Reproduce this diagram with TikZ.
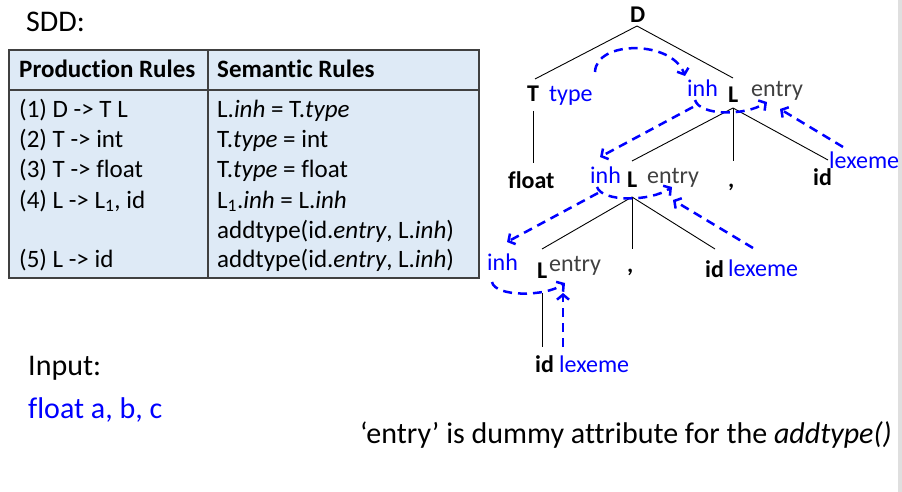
\documentclass[tikz,border=0pt]{standalone}
\usepackage{fontspec}
\setmainfont{Carlito}[Ligatures={NoCommon}]
\usetikzlibrary{arrows.meta}
\definecolor{tblfill}{HTML}{DEEAF6}
\definecolor{tblline}{HTML}{404040}
\definecolor{attrblue}{HTML}{0000FF}
\definecolor{entrygray}{HTML}{404040}
\begin{document}
\begin{tikzpicture}[x=1pt,y=-1pt,
  txt/.style={anchor=base west, inner sep=0pt, font=\fontsize{24}{29}\selectfont},
  tbl/.style={anchor=base west, inner sep=0pt, font=\fontsize{25}{30}\selectfont},
  tblh/.style={anchor=base west, inner sep=0pt, font=\fontsize{25}{30}\selectfont\bfseries},
  big/.style={anchor=base west, inner sep=0pt, font=\fontsize{30}{36}\selectfont},
  sym/.style={anchor=base west, inner sep=0pt, font=\fontsize{24}{29}\selectfont\bfseries},
  attr/.style={txt, text=attrblue},
  ent/.style={txt, text=entrygray},
  treeline/.style={line width=0.9pt},
  dep/.style={attrblue, line width=2.5pt, dash pattern=on 9pt off 6pt,
    -{Straight Barb[length=5pt,width=12pt]}}]
\useasboundingbox (0,0) rectangle (902,492);
\fill[white] (0,0) rectangle (902,492);
\fill[gray!25] (898,0) rectangle (902,492);

% titles
\node[big] (sdd) at (26,32) {SDD:};
\node[big] (input) at (28,375) {Input:};
\node[big, text=attrblue] (inval) at (28,418) {float a, b, c};
\node[big] (note) at (360,443) {‘entry’ is dummy attribute for the \textit{addtype()}};

% table
\draw[fill=tblfill, draw=tblline, line width=2pt] (9,50) rectangle (479,278);
\draw[tblline, line width=2pt] (9,90) -- (479,90);
\draw[tblline, line width=2pt] (208,50) -- (208,278);
\node[tblh] (h1) at (19,78) {Production Rules};
\node[tblh] (h2) at (217,78) {Semantic Rules};
\node[tbl] (p1) at (19,118) {(1) D -> T L};
\node[tbl] (p2) at (19,148) {(2) T -> int};
\node[tbl] (p3) at (19,177) {(3) T -> float};
\node[tbl] (p4) at (19,208) {(4) L -> L\textsubscript{1}, id};
\node[tbl] (p5) at (19,267) {(5) L -> id};
\node[tbl] (s1) at (217,118) {L.\textit{inh} = T.\textit{type}};
\node[tbl] (s2) at (217,148) {T.\textit{type} = int};
\node[tbl] (s3) at (217,177) {T.\textit{type} = float};
\node[tbl] (s4) at (217,208) {L\textsubscript{1}.\textit{inh} = L.\textit{inh}};
\node[tbl] (s5) at (217,238) {addtype(id.\textit{entry}, L.\textit{inh})};
\node[tbl] (s6) at (217,267) {addtype(id.\textit{entry}, L.\textit{inh})};

% tree symbols
\node[sym] (D) at (630,23) {D};
\node[sym] (T) at (527,102) {T};
\node[attr] (Ttype) at (549,102) {type};
\node[sym] (L1) at (728,103) {L};
\node[attr] (L1inh) at (687,97) {inh};
\node[ent] (L1entry) at (751,97) {entry};
\node[sym] (flt) at (508,188) {float};
\node[sym] (L2) at (627,187) {L};
\node[attr] (L2inh) at (590,183) {inh};
\node[ent] (L2entry) at (647,183) {entry};
\node[sym] (c1) at (728,187) {,};
\node[sym] (id1) at (813,185) {id};
\node[attr] (lex1) at (829,168) {lexeme};
\node[sym] (L3) at (537,278) {L};
\node[attr] (L3inh) at (487,270) {inh};
\node[ent] (L3entry) at (549,271) {entry};
\node[sym] (c2) at (627,272) {,};
\node[sym] (id2) at (705,277) {id};
\node[attr] (lex2) at (728,276) {lexeme};
\node[sym] (id3) at (535,372) {id};
\node[attr] (lex3) at (559,372) {lexeme};

% tree line end points
\coordinate (Dd) at (637,26);
\coordinate (Tu) at (535,79);
\coordinate (L1u) at (733,78);
\coordinate (Td) at (533,111);
\coordinate (fltu) at (533,163);
\coordinate (L1d) at (733,108);
\coordinate (L2u) at (632,161);
\coordinate (c1u) at (733,161);
\coordinate (id1u) at (828,160);
\coordinate (L2d) at (632,197);
\coordinate (L3u) at (542,249);
\coordinate (c2u) at (632,249);
\coordinate (id2u) at (715,249);
\coordinate (L3d) at (542,293);
\coordinate (id3u) at (542,347);

\draw[treeline] (Dd) -- (Tu);
\draw[treeline] (Dd) -- (L1u);
\draw[treeline] (Td) -- (fltu);
\draw[treeline] (L1d) -- (L2u);
\draw[treeline] (L1d) -- (c1u);
\draw[treeline] (L1d) -- (id1u);
\draw[treeline] (L2d) -- (L3u);
\draw[treeline] (L2d) -- (c2u);
\draw[treeline] (L2d) -- (id2u);
\draw[treeline] (L3d) -- (id3u);

% dependency arrows
\coordinate (a1s) at (595,72);   \coordinate (a1e) at (685,76);
\coordinate (a2s) at (695,100);  \coordinate (a2e) at (767,102);
\coordinate (a3s) at (843,147);  \coordinate (a3e) at (780,109);
\coordinate (a4s) at (693,107);  \coordinate (a4e) at (600,157);
\coordinate (a5s) at (597,187);  \coordinate (a5e) at (672,187);
\coordinate (a6s) at (753,248);  \coordinate (a6e) at (673,200);
\coordinate (a7s) at (598,193);  \coordinate (a7e) at (507,242);
\coordinate (a8s) at (492,282);  \coordinate (a8e) at (565,283);
\coordinate (a9s) at (563,347);  \coordinate (a9e) at (563,293);

\draw[dep] (a1s) .. controls (596,40) and (672,40) .. (a1e);
\draw[dep] (a2s) .. controls (700,116) and (745,116) .. (a2e);
\draw[dep] (a3s) -- (a3e);
\draw[dep] (a4s) -- (a4e);
\draw[dep] (a5s) .. controls (602,202) and (650,202) .. (a5e);
\draw[dep] (a6s) -- (a6e);
\draw[dep] (a7s) -- (a7e);
\draw[dep] (a8s) .. controls (495,297) and (545,297) .. (a8e);
\draw[dep] (a9s) -- (a9e);
\end{tikzpicture}
\end{document}
